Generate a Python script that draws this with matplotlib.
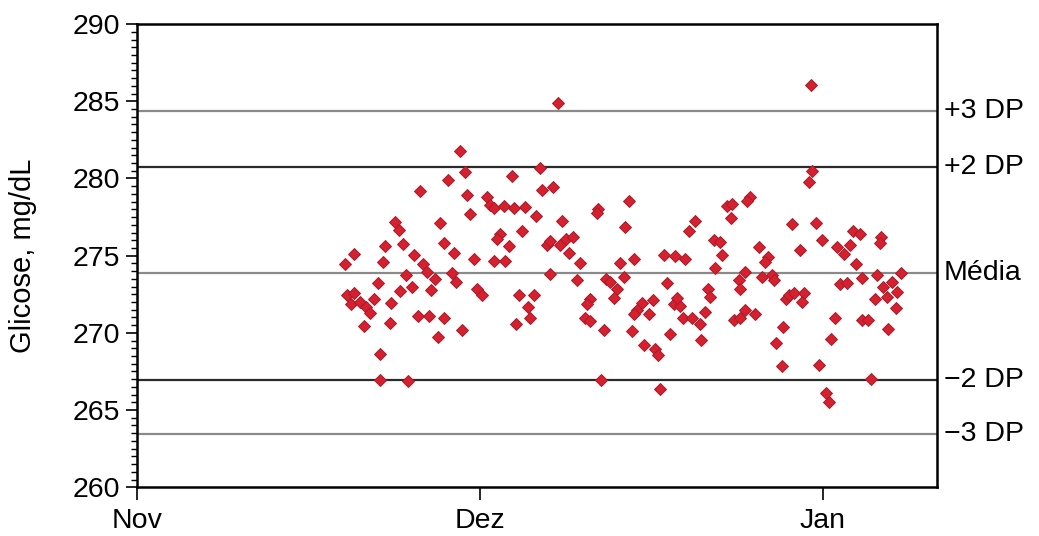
import numpy as np
import matplotlib
matplotlib.use("Agg")
import matplotlib.pyplot as plt
from matplotlib.ticker import MultipleLocator
import matplotlib.transforms as mtransforms

plt.rcParams['font.family'] = ['Liberation Sans', 'DejaVu Sans']

# days counted from 1 Nov (months drawn with equal width)
dias = [
    28.70, 29.21, 27.64, 25.20, 29.36, 29.65, 22.98, 23.27, 26.92, 27.28,
    22.09, 23.66, 19.27, 18.53, 21.88, 24.61, 28.23, 29.95, 25.44, 25.80,
    23.96, 26.54, 28.02, 28.41, 21.43, 24.46, 23.36, 26.15, 30.25, 30.69,
    18.67, 19.33, 19.03, 19.86, 20.39, 20.69, 21.11, 22.62, 20.16, 22.47,
    24.96, 25.94, 27.34, 28.91, 26.74, 21.64, 21.64, 24.07,
    37.42, 35.88, 33.36, 36.03, 37.01, 31.13, 31.43, 31.79, 32.62, 33.51,
    34.55, 35.53, 43.75, 40.98, 40.93, 43.45, 37.81, 34.25, 32.32, 32.02,
    33.06, 36.47, 36.77, 37.66, 38.20, 38.79, 38.40, 31.79, 32.77, 39.44,
    42.94, 44.19, 36.71, 39.15, 41.76, 42.11, 43.30, 42.71, 42.41, 33.95,
    35.29, 34.75, 34.99, 33.74, 40.33, 40.04, 39.89, 40.27, 41.58, 44.04,
    41.28,
    54.58, 54.29, 52.51, 52.95, 52.86, 49.69, 49.09, 51.32, 51.85, 52.06,
    55.32, 56.13, 55.92, 46.87, 47.91, 48.80, 51.47, 54.14, 55.62, 56.51,
    56.66, 53.54, 53.69, 47.16, 50.78, 51.02, 44.49, 44.94, 44.20, 45.53,
    45.92, 47.76, 48.29, 48.05, 48.59, 49.39, 50.07, 50.58, 53.10, 53.69,
    54.14, 55.03, 47.40, 45.15, 46.13, 46.33, 50.19, 56.90, 46.51,
    59.99, 60.08, 59.78, 58.30, 60.46, 60.97, 58.98, 63.73, 64.32, 66.16,
    66.10, 62.30, 63.43, 62.90, 63.94, 62.54, 63.19, 64.53, 65.87, 67.94,
    67.20, 66.40, 67.65, 66.70, 65.63, 67.50, 57.71, 58.00, 58.45, 59.34,
    59.19, 62.07, 64.53, 65.03, 66.81, 57.50, 61.77, 57.35, 60.67, 65.33,
    61.27, 61.56,
]
glicose = [
    281.79, 280.43, 279.93, 279.18, 278.92, 277.69, 277.19, 276.69, 277.13, 275.79,
    275.64, 275.74, 275.14, 274.49, 274.58, 275.07, 275.20, 274.81, 274.49, 273.95,
    273.73, 273.52, 273.89, 273.30, 273.24, 272.94, 272.72, 272.76, 272.81, 272.44,
    272.44, 272.59, 271.86, 272.01, 271.68, 271.29, 272.22, 271.94, 270.43, 270.65,
    271.08, 271.08, 270.97, 270.21, 269.74, 268.62, 266.93, 266.87,
    284.90, 280.71, 280.15, 279.24, 279.46, 278.81, 278.27, 278.12, 278.21, 278.12,
    278.16, 277.56, 278.55, 278.05, 277.77, 276.87, 277.23, 276.61, 276.43, 276.11,
    275.64, 275.68, 275.96, 275.68, 276.05, 276.22, 275.18, 274.66, 274.66, 274.53,
    274.53, 274.81, 273.80, 273.41, 273.52, 273.30, 273.63, 272.81, 272.29, 272.48,
    272.44, 271.68, 270.93, 270.60, 272.22, 271.90, 270.99, 270.78, 270.17, 270.13,
    266.97,
    278.81, 278.55, 278.21, 278.34, 277.41, 277.26, 276.61, 276.00, 275.89, 275.03,
    275.53, 274.92, 274.60, 275.03, 274.99, 274.81, 274.23, 273.95, 273.63, 273.73,
    273.41, 273.41, 272.87, 273.26, 272.81, 272.33, 271.47, 271.94, 271.25, 271.25,
    272.11, 271.86, 271.73, 272.29, 270.93, 270.99, 270.60, 271.32, 270.82, 270.99,
    271.47, 271.21, 269.91, 269.20, 268.98, 268.55, 269.52, 269.35, 266.39,
    286.05, 280.50, 279.78, 277.04, 277.13, 276.00, 275.35, 276.61, 276.39, 276.22,
    275.83, 275.57, 275.68, 275.10, 274.49, 273.15, 273.24, 273.58, 273.73, 273.89,
    273.30, 272.94, 272.65, 272.33, 272.22, 271.58, 272.22, 272.44, 272.55, 272.55,
    272.01, 270.93, 270.82, 270.86, 270.28, 270.39, 269.63, 267.84, 267.90, 267.04,
    266.11, 265.53,
]

# control limits
limites = [284.35, 280.75, 273.85, 266.95, 263.45]
rotulos = ['+3 DP', '+2 DP', 'Média', '\u22122 DP', '\u22123 DP']
cores_lim = ['#8a8a8a', '#2b2b2b', '#8a8a8a', '#2b2b2b', '#8a8a8a']

meses = ['Nov', 'Dez', 'Jan']
pos_meses = [0, 30.5, 61]

fig = plt.figure(figsize=(10.39, 5.36), dpi=100)
ax = fig.add_axes([0.132, 0.091, 0.770, 0.864])

trans = mtransforms.blended_transform_factory(ax.transAxes, ax.transData)
for y, txt, c in zip(limites, rotulos, cores_lim):
    ax.axhline(y, color=c, lw=1.6, zorder=1)
    ax.text(1.008, y, txt, transform=trans, ha='left', va='center',
            fontsize=20.5, clip_on=False)

ax.plot(dias, glicose, ls='none', marker='D', ms=5.8, mfc='#d5202f',
        mec='#a81a2a', mew=0.7, zorder=3)

ax.set_xlim(0, 71.2)
ax.set_ylim(260, 290)
ax.set_xticks(pos_meses)
ax.set_xticklabels(meses)
ax.set_yticks(np.arange(260, 291, 5))
ax.yaxis.set_minor_locator(MultipleLocator(0.5))

ax.set_ylabel('Glicose, mg/dL', fontsize=21)
ax.yaxis.set_label_coords(-0.125, 0.5)
ax.tick_params(axis='both', labelsize=20.5, width=1.2)
ax.tick_params(axis='y', which='major', length=8, pad=4)
ax.tick_params(axis='y', which='minor', length=4, width=1)
ax.tick_params(axis='x', length=9, pad=6)
for s in ax.spines.values():
    s.set_linewidth(1.8)

fig.savefig('out.png', dpi=100)
